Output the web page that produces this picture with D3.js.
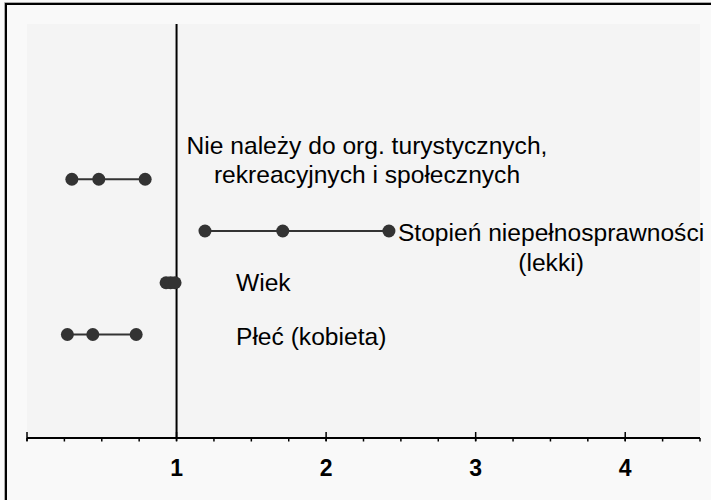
<!DOCTYPE html>
<html>
<head>
<meta charset="utf-8">
<script src="https://cdn.jsdelivr.net/npm/d3@7"></script>
<style>
  html, body { margin: 0; padding: 0; background: #f9f9f9; }
  svg { display: block; font-family: "Liberation Sans", Arial, sans-serif; }
</style>
</head>
<body>
<svg id="chart" width="711" height="500"></svg>
<script>
// ---- data ----
const categories = [
  ["Nie należy do org. turystycznych,", "rekreacyjnych i społecznych"],
  ["Stopień niepełnosprawności", "(lekki)"],
  ["Wiek"],
  ["Płeć (kobieta)"]
];
const rowIndex = [4, 3, 2, 1];
const lowerCI = [0.30, 1.19, 0.93, 0.27];
const oddsRatio = [0.48, 1.71, 0.96, 0.44];
const upperCI = [0.79, 2.42, 0.99, 0.73];
const tickValues = [1, 2, 3, 4];
const tickLabels = ["1", "2", "3", "4"];

const W = 711, H = 500;
const svg = d3.select("#chart");

const plot = { left: 27, right: 700, top: 24, bottom: 438 };

// background
svg.append("rect").attr("x", 0).attr("y", 0).attr("width", W).attr("height", H).attr("fill", "#f9f9f9");
svg.append("rect").attr("x", plot.left).attr("y", plot.top)
  .attr("width", plot.right - plot.left).attr("height", plot.bottom - plot.top)
  .attr("fill", "#f4f4f4");

// frame (left + top)
svg.append("path").attr("d", `M4.5,${H} V2.5 H${W}`).attr("fill", "none").attr("stroke", "#aaa").attr("stroke-width", 1);
svg.append("path").attr("d", `M6,${H} V4 H${W}`).attr("fill", "none").attr("stroke", "#000").attr("stroke-width", 2);

const x = d3.scaleLinear().domain([0, 4.5]).range([plot.left, plot.right]);
const y = d3.scaleLinear().domain([-1, 7]).range([plot.bottom, plot.top]);

// minor ticks (below axis)
const minor = d3.range(0, 4.5001, 0.25);
svg.append("g").selectAll("line").data(minor).join("line")
  .attr("x1", d => x(d)).attr("x2", d => x(d))
  .attr("y1", plot.bottom).attr("y2", plot.bottom + 3.5)
  .attr("stroke", "#000").attr("stroke-width", 1.5);

// major ticks (through axis, upward)
svg.append("g").selectAll("line").data([0].concat(tickValues)).join("line")
  .attr("x1", d => x(d)).attr("x2", d => x(d))
  .attr("y1", plot.bottom - 6).attr("y2", plot.bottom + 3)
  .attr("stroke", "#000").attr("stroke-width", 1.5);

// axis line
svg.append("line").attr("x1", x(0)).attr("x2", x(4.5))
  .attr("y1", plot.bottom).attr("y2", plot.bottom)
  .attr("stroke", "#000").attr("stroke-width", 2);

// tick labels
svg.append("g").selectAll("text").data(tickValues).join("text")
  .attr("x", d => x(d)).attr("y", plot.bottom + 38)
  .attr("text-anchor", "middle")
  .attr("font-size", 23).attr("font-weight", "bold").attr("fill", "#000")
  .text((d, i) => tickLabels[i]);

// reference line at 1
svg.append("line").attr("x1", x(1)).attr("x2", x(1))
  .attr("y1", plot.top).attr("y2", plot.bottom)
  .attr("stroke", "#000").attr("stroke-width", 2);

// CI lines and points
const rows = categories.map((c, i) => ({ label: c, row: rowIndex[i], lo: lowerCI[i], or: oddsRatio[i], hi: upperCI[i] }));
const g = svg.append("g");
g.selectAll("line.ci").data(rows).join("line").attr("class", "ci")
  .attr("x1", d => x(d.lo)).attr("x2", d => x(d.hi))
  .attr("y1", d => y(d.row)).attr("y2", d => y(d.row))
  .attr("stroke", "#333").attr("stroke-width", 2);
rows.forEach(d => {
  g.selectAll(null).data([d.lo, d.or, d.hi]).join("circle")
    .attr("cx", v => x(v)).attr("cy", y(d.row)).attr("r", 6.5)
    .attr("fill", "#333");
});

// labels
const fs = 24.6;
function label(lines, ax, anchor, by) {
  const t = svg.append("text").attr("font-size", fs).attr("fill", "#000").attr("text-anchor", anchor);
  lines.forEach((l, i) => t.append("tspan").attr("x", ax).attr("y", by + i * 29.5).text(l));
  return t;
}
// row 1: centered block above/around the row
label(rows[0].label, 367, "middle", y(rows[0].row) - 25.5);
// row 2: starts right of the upper CI point, block centered
(function () {
  const t = svg.append("text").attr("font-size", fs).attr("fill", "#000");
  const first = t.append("tspan").attr("x", x(rows[1].hi) + 9).attr("y", y(rows[1].row) + 10).text(rows[1].label[0]);
  const w = first.node().getComputedTextLength();
  const cx = x(rows[1].hi) + 9 + w / 2;
  t.append("tspan").attr("x", cx).attr("text-anchor", "middle").attr("y", y(rows[1].row) + 40).text(rows[1].label[1]);
})();
label(rows[2].label, 236, "start", y(rows[2].row) + 8.5);
label(rows[3].label, 236, "start", y(rows[3].row) + 10.5);
</script>
</body>
</html>
